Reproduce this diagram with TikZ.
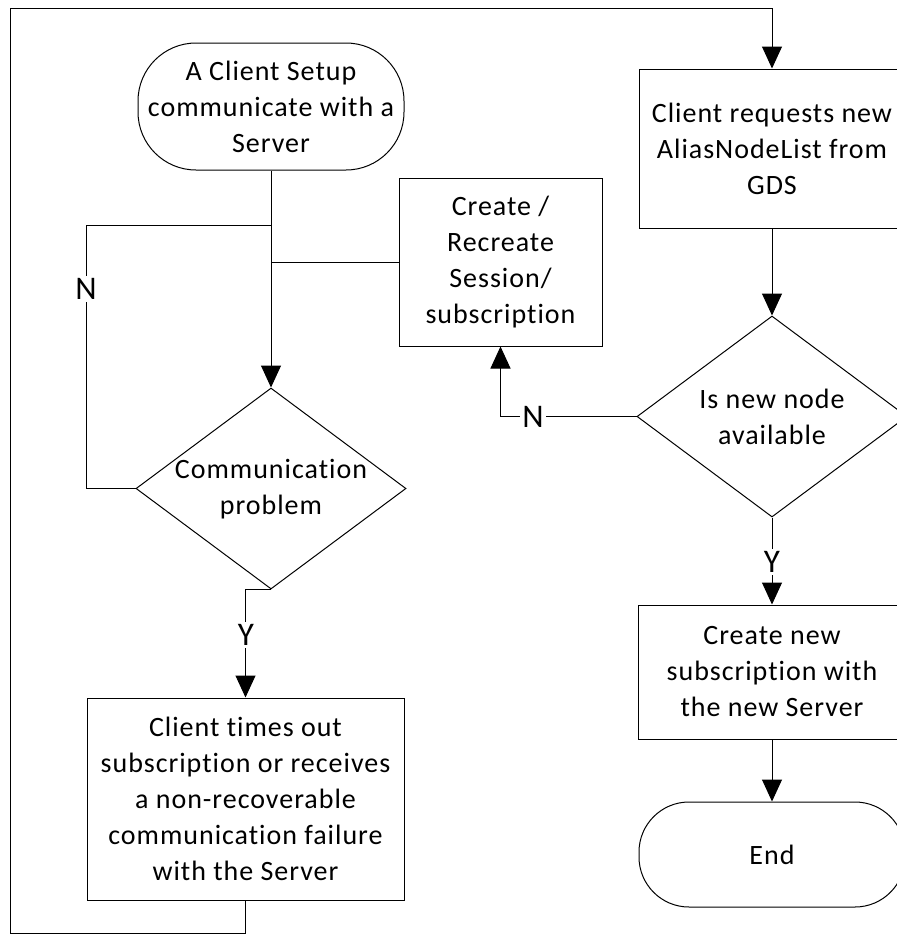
\documentclass[tikz,border=0pt]{standalone}
\usepackage{fontspec}
\setmainfont{Carlito}[Ligatures=NoCommon, LetterSpace=3.5]
\newfontfamily\lblfont{Carlito}[Ligatures=NoCommon]
\usetikzlibrary{arrows.meta,shapes.geometric}
\begin{document}
\begin{tikzpicture}[x=1pt,y=-1pt, line width=1pt,
  txt/.style={font=\fontsize{28}{36}\selectfont, align=center, inner sep=0pt},
  boxn/.style={draw, rectangle, inner sep=0pt},
  term/.style={draw, rectangle, rounded corners=58pt, inner sep=0pt},
  dia/.style={draw, diamond, minimum width=270pt, minimum height=201pt, inner sep=0pt},
  lbl/.style={font=\lblfont\fontsize{33}{36}\selectfont, fill=white, inner sep=2pt},
  arr/.style={-{Triangle[length=22pt,width=20pt]}}]
\useasboundingbox (0,0) rectangle (897,935);
\clip (0,0) rectangle (897,935);

% nodes
\node[term, minimum width=266pt, minimum height=127pt] (start) at (271,106.5) {};
\node[txt] (startT) at (start) {A Client Setup\\communicate with a\\Server};
\node[boxn, minimum width=203pt, minimum height=168pt] (create) at (500.5,262) {};
\node[txt] (createT) at (create) {Create /\\Recreate\\Session/\\subscription};
\node[dia] (dia1) at (271,488.5) {};
\node[txt] (dia1T) at (271,489) {Communication\\problem};
\node[boxn, minimum width=317pt, minimum height=202pt] (fail) at (245.5,799) {};
\node[txt] (failT) at (fail) {Client times out\\subscription or receives\\a non-recoverable\\communication failure\\with the Server};
\node[boxn, minimum width=266pt, minimum height=159pt] (req) at (772,148.5) {};
\node[txt] (reqT) at (req) {Client requests new\\AliasNodeList from\\GDS};
\node[dia] (dia2) at (772,416.5) {};
\node[txt] (dia2T) at (772,417) {Is new node\\available};
\node[boxn, minimum width=268pt, minimum height=134pt] (newsub) at (772,672) {};
\node[txt] (newsubT) at (newsub) {Create new\\subscription with\\the new Server};
\node[term, minimum width=266pt, minimum height=105pt, rounded corners=50pt] (end) at (772,854.5) {};
\node[txt] (endT) at (end) {End};

% helper coordinates
\coordinate (jn) at (271,225);
\coordinate (lp) at (86,225);
\coordinate (bl) at (10,933);
\coordinate (tl) at (10,8);

% connectors
\draw[arr] (start.south) -- (dia1.north);
\draw (dia1.west) -| (lp) -- (jn);
\draw (create.west) -- (create.west -| start.south);
\draw[arr] (dia1.south) -| (fail.north);
\draw[arr] (fail.south) |- (bl) -- (tl) -| (req.north);
\draw[arr] (req.south) -- (dia2.north);
\draw[arr] (dia2.west) -| (create.south);
\draw[arr] (dia2.south) -- (newsub.north);
\draw[arr] (newsub.south) -- (end.north);

% labels
\node[lbl] (n1) at (86,289) {N};
\node[lbl] (y1) at (246,635) {Y};
\node[lbl] (n2) at (533,417) {N};
\node[lbl] (y2) at (772,562) {Y};
\end{tikzpicture}
\end{document}
